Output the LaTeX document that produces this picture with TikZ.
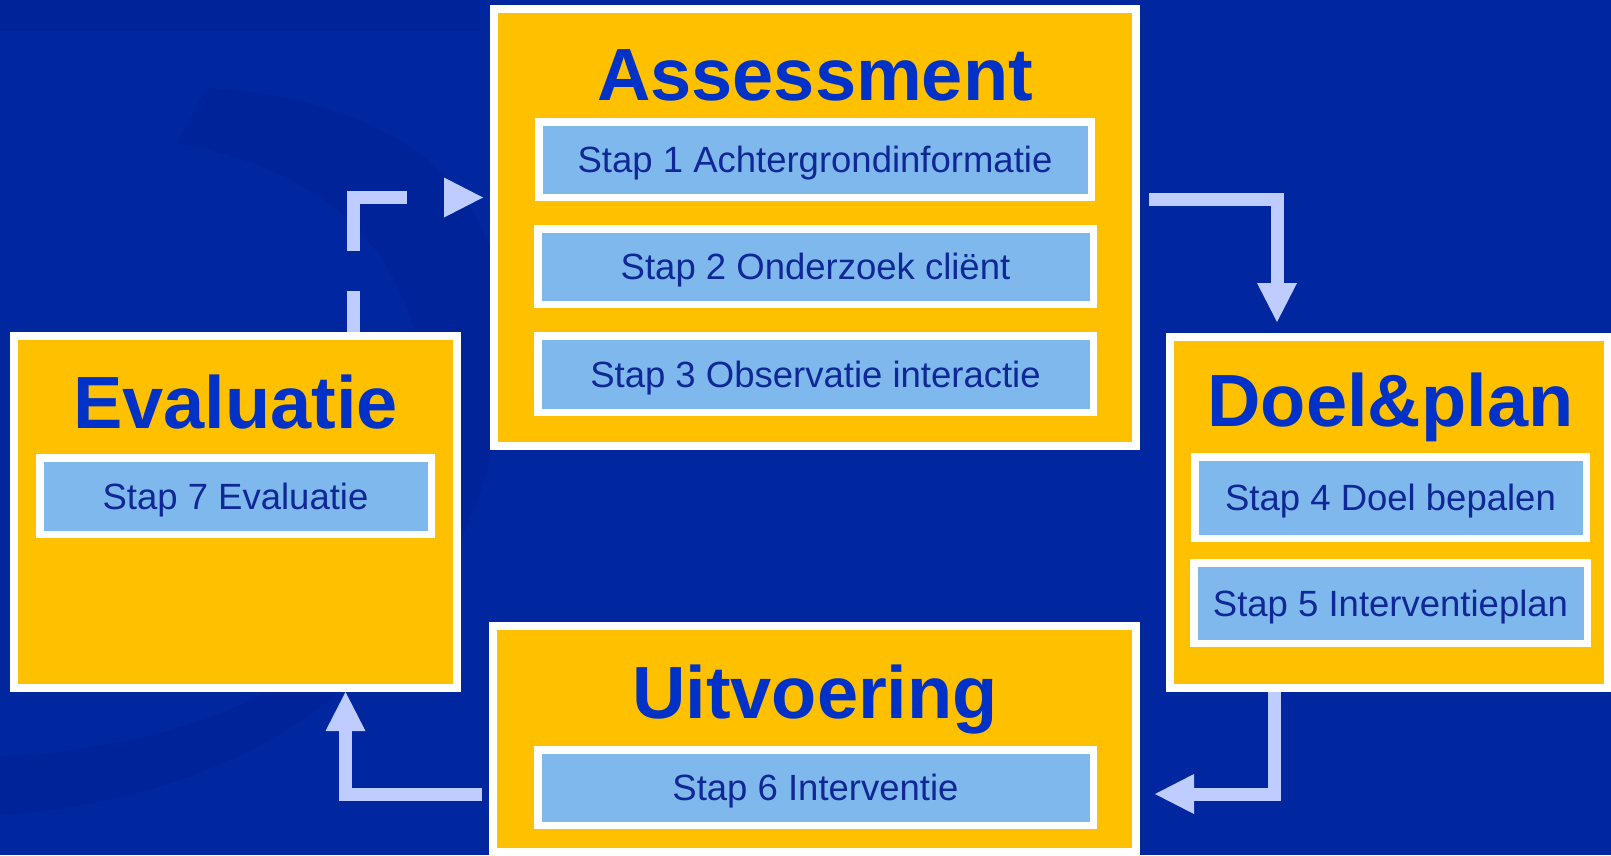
\documentclass[tikz,border=0pt]{standalone}
\usepackage{fontspec}
\setmainfont{Liberation Sans}
\usetikzlibrary{arrows.meta}
\definecolor{bgblue}{RGB}{0,38,160}
\definecolor{swirl}{RGB}{0,35,154}
\definecolor{gold}{RGB}{255,192,0}
\definecolor{stepblue}{RGB}{126,184,236}
\definecolor{titleblue}{RGB}{0,50,200}
\definecolor{textblue}{RGB}{16,40,150}
\definecolor{arrowc}{RGB}{190,204,255}
\begin{document}
\begin{tikzpicture}[x=1pt,y=-1pt,
  phase/.style={rectangle, draw=white, fill=gold, line width=8pt, inner sep=0pt},
  stepbox/.style={rectangle, draw=white, fill=stepblue, line width=7.5pt, inner sep=0pt,
    text height=26pt, text depth=0pt, text=textblue, font=\fontsize{36.5}{40}\selectfont},
  title/.style={anchor=base, inner sep=0pt, text=titleblue, font=\fontsize{74}{80}\selectfont\bfseries},
  conn/.style={draw=arrowc, line width=13pt, line join=miter,
    -{Triangle[width=40pt,length=39pt,line width=0pt]}},
]
% background
\fill[bgblue] (0,0) rectangle (1611,855);
\useasboundingbox (0,0) rectangle (1611,855);
\fill[swirl] (0,0) rectangle (480,31);
\fill[swirl] (207,88) .. controls (380,100) and (500,170) .. (505,330)
  .. controls (510,560) and (350,790) .. (0,815) -- (0,757)
  .. controls (300,740) and (440,600) .. (430,420)
  .. controls (420,300) and (380,180) .. (177,143) -- cycle;

% phase boxes
\node[phase, minimum width=642pt, minimum height=437pt] (assess) at (815,227.5) {};
\node[phase, minimum width=643pt, minimum height=226pt] (uitv) at (814.5,739) {};
\node[phase, minimum width=438pt, minimum height=351pt] (doel) at (1389,512.5) {};
\node[phase, minimum width=443pt, minimum height=352pt] (evalbox) at (235.5,512) {};

% titles
\node[title] (tassess) at (815,100) {Assessment};
\node[title] (tdoel) at (1390.5,426) {Doel\&plan};
\node[title] (teval) at (235.5,428) {Evaluatie};
\node[title] (tuitv) at (815,718) {Uitvoering};

% steps
\node[stepbox, minimum width=552.5pt, minimum height=75.5pt] (s1) at (815,159.5) {Stap 1 Achtergrondinformatie};
\node[stepbox, minimum width=555.5pt, minimum height=75.5pt] (s2) at (815.5,266.5) {Stap 2 Onderzoek cliënt};
\node[stepbox, minimum width=555.5pt, minimum height=76.5pt] (s3) at (815.5,374) {Stap 3 Observatie interactie};
\node[stepbox, minimum width=391.5pt, minimum height=81.5pt] (s4) at (1390.5,497.5) {Stap 4 Doel bepalen};
\node[stepbox, minimum width=393.5pt, minimum height=80.5pt] (s5) at (1390.5,603) {Stap 5 Interventieplan};
\node[stepbox, minimum width=555.5pt, minimum height=75.5pt] (s6) at (815.5,787.5) {Stap 6 Interventie};
\node[stepbox, minimum width=391.5pt, minimum height=76.5pt] (s7) at (235.5,496) {Stap 7 Evaluatie};

% helper coordinates for connector routing
\coordinate (x1) at (1277,0);   \coordinate (y1) at (0,199.5);
\coordinate (x2) at (1274.5,0); \coordinate (y2) at (0,794);
\coordinate (x3) at (345.5,0);  \coordinate (y3) at (0,794.5);
\coordinate (x4) at (353.5,0);  \coordinate (y4) at (0,197.5);

% connectors
\draw[conn, shorten <=9pt, shorten >=11pt] (assess.east |- y1) -| (doel.north -| x1);
\draw[conn, shorten >=15pt] (doel.south -| x2) |- (uitv.east |- y2);
\draw[conn, shorten <=7pt] (uitv.west |- y3) -| (evalbox.south -| x3);
\draw[conn, shorten >=7pt, dash pattern=on 41pt off 40pt on 107pt off 40pt]
  (evalbox.north -| x4) |- (assess.west |- y4);
\end{tikzpicture}
\end{document}
